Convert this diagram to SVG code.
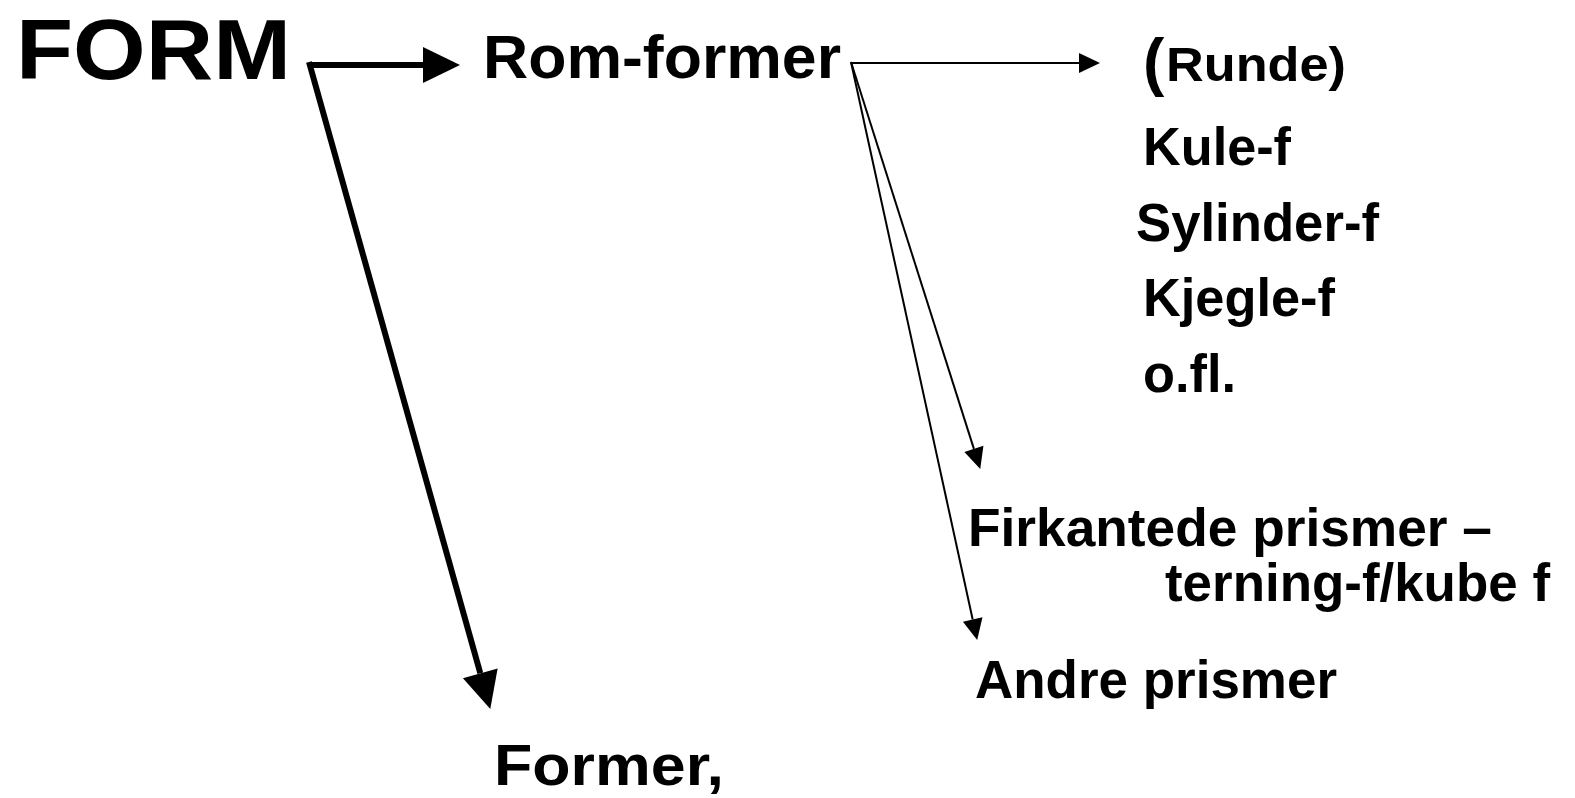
<svg xmlns="http://www.w3.org/2000/svg" width="1575" height="798" viewBox="0 0 1575 798">
<style>
text{font-family:"Liberation Sans",Arial,sans-serif;font-weight:bold;fill:#000}
.thick{stroke:#000;stroke-width:6;fill:none}
.thin{stroke:#000;stroke-width:2;fill:none}
</style>
<defs>
<marker id="bigHead" markerUnits="userSpaceOnUse" markerWidth="37" markerHeight="36" refX="0" refY="18" orient="auto" overflow="visible">
<path d="M0,0 L37,18 L0,36 Z" fill="#000"/>
</marker>
<marker id="smallHead" markerUnits="userSpaceOnUse" markerWidth="21" markerHeight="20" refX="0" refY="10" orient="auto" overflow="visible">
<path d="M0,0 L21,10 L0,20 Z" fill="#000"/>
</marker>
</defs>
<rect width="1575" height="798" fill="#fff"/>
<g id="connectors">
<line class="thick" x1="311" y1="65" x2="423" y2="65" marker-end="url(#bigHead)"/>
<line class="thick" x1="309" y1="62" x2="480.3" y2="673.3" marker-end="url(#bigHead)"/>
<line class="thin" x1="851" y1="63" x2="1079" y2="63" marker-end="url(#smallHead)"/>
<line class="thin" x1="851" y1="62" x2="973.9" y2="448.9" marker-end="url(#smallHead)"/>
<line class="thin" x1="851" y1="62" x2="972.7" y2="619.5" marker-end="url(#smallHead)"/>
</g>
<g id="form"><text x="16" y="79" font-size="86" textLength="275" lengthAdjust="spacingAndGlyphs">FORM</text></g>
<g id="rom-former"><text x="483" y="78" font-size="61" textLength="358" lengthAdjust="spacingAndGlyphs">Rom-former</text></g>
<g id="runde"><text x="1143" y="84" font-size="64">(</text><text x="1166" y="81" font-size="48" textLength="180" lengthAdjust="spacingAndGlyphs">Runde)</text></g>
<g id="kule"><text x="1143" y="165" font-size="54" textLength="148" lengthAdjust="spacingAndGlyphs">Kule-f</text></g>
<g id="sylinder"><text x="1136" y="241" font-size="54" textLength="243" lengthAdjust="spacingAndGlyphs">Sylinder-f</text></g>
<g id="kjegle"><text x="1143" y="316" font-size="54" textLength="192" lengthAdjust="spacingAndGlyphs">Kjegle-f</text></g>
<g id="ofl"><text x="1143" y="392" font-size="54" textLength="93" lengthAdjust="spacingAndGlyphs">o.fl.</text></g>
<g id="firkantede"><text x="968" y="546" font-size="54" textLength="524" lengthAdjust="spacingAndGlyphs">Firkantede prismer –</text></g>
<g id="terning"><text x="1165" y="601" font-size="54" textLength="385" lengthAdjust="spacingAndGlyphs">terning-f/kube f</text></g>
<g id="andre"><text x="975" y="698" font-size="54" textLength="362" lengthAdjust="spacingAndGlyphs">Andre prismer</text></g>
<g id="former"><text x="494" y="785" font-size="58" textLength="230" lengthAdjust="spacingAndGlyphs">Former,</text></g>
</svg>
